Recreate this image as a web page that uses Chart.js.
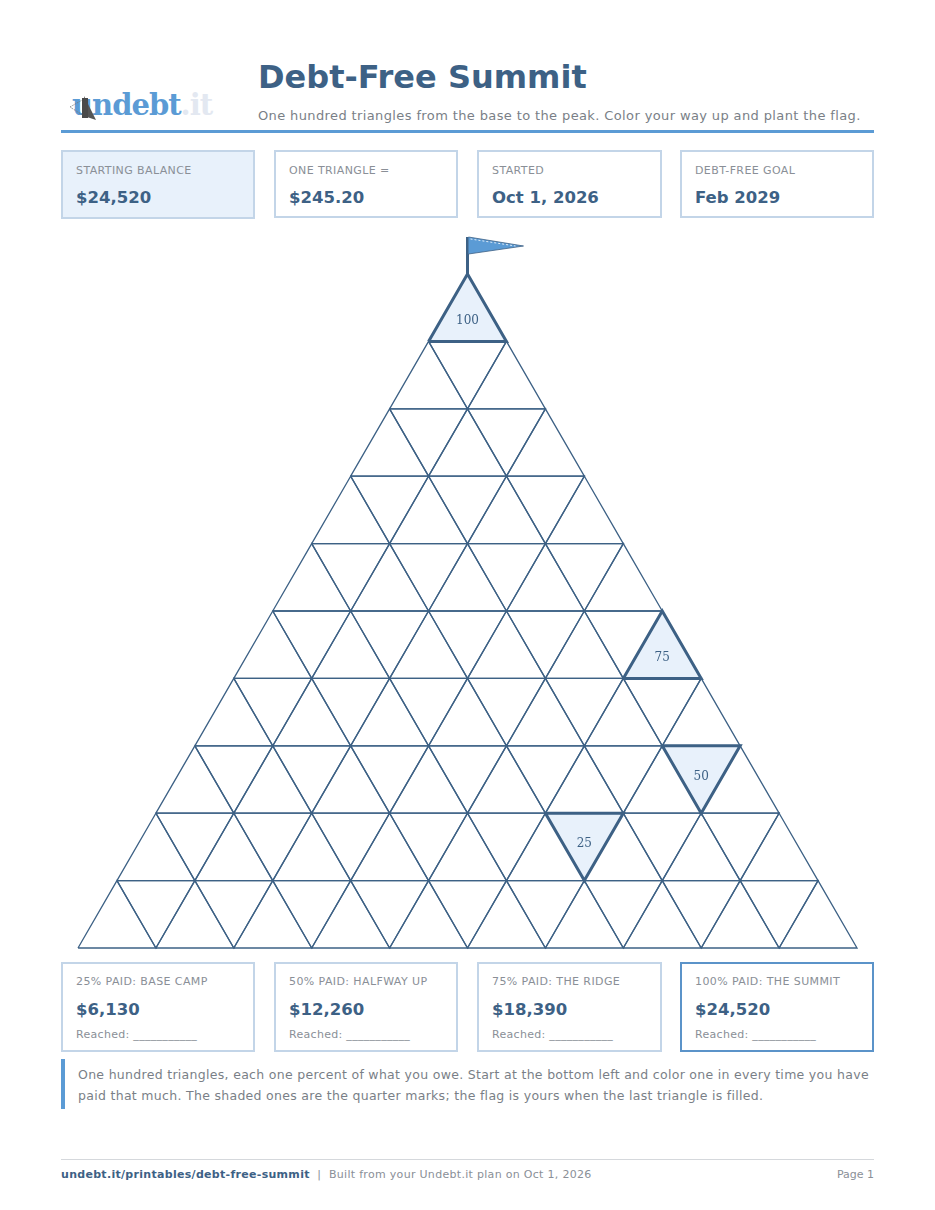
<!DOCTYPE html>
<html><head><meta charset="utf-8">
<script src="https://cdn.jsdelivr.net/npm/chart.js"></script>
<style>
body{margin:0;background:#fff;font-family:"DejaVu Sans",sans-serif;}
.pg{position:relative;width:935px;height:1210px;}
.abs{position:absolute;}
.box{position:absolute;box-sizing:border-box;border:2px solid #c3d5e8;background:#fff;}
.lbl{position:absolute;left:13px;font-size:11px;color:#8a8f97;letter-spacing:0.4px;}
.val{position:absolute;left:13px;font-size:16.5px;font-weight:bold;color:#3d6185;}
.rch{position:absolute;left:13px;font-size:11px;color:#8a8f97;letter-spacing:0.3px;}
</style></head><body><div class="pg">
<div class="abs" style="left:72px;top:88px;font-family:'DejaVu Serif',serif;font-weight:bold;font-size:29px;color:#5b9bd5;letter-spacing:-1px">undebt<span style="color:#e3e8f1">.it</span></div>
<svg class="abs" style="left:68px;top:94px" width="30" height="28"><polygon points="16,2 28,26 16,22" fill="#555"/><polygon points="2,13 16,5 16,22" fill="none" stroke="#777" stroke-dasharray="1,1"/><rect x="14" y="4" width="6" height="20" fill="#4a4a4a"/></svg>
<div class="abs" style="left:258px;top:58px;font-size:32px;font-weight:bold;color:#3d6185">Debt-Free Summit</div>
<div class="abs" style="left:258px;top:108px;font-size:13px;letter-spacing:0.38px;color:#7a7f87">One hundred triangles from the base to the peak. Color your way up and plant the flag.</div>
<div class="abs" style="left:61px;top:130px;width:813px;height:3px;background:#5b9bd5"></div>

<div class="box" style="left:61px;top:150px;width:194px;height:69px;background:#e8f1fb"><div class="lbl" style="top:12px">STARTING BALANCE</div><div class="val" style="top:36px">$24,520</div></div>
<div class="box" style="left:274px;top:150px;width:184px;height:68px"><div class="lbl" style="top:12px">ONE TRIANGLE =</div><div class="val" style="top:36px">$245.20</div></div>
<div class="box" style="left:477px;top:150px;width:185px;height:68px"><div class="lbl" style="top:12px">STARTED</div><div class="val" style="top:36px">Oct 1, 2026</div></div>
<div class="box" style="left:680px;top:150px;width:194px;height:68px"><div class="lbl" style="top:12px">DEBT-FREE GOAL</div><div class="val" style="top:36px">Feb 2029</div></div>

<canvas id="c" class="abs" style="left:68px;top:228px;width:800px;height:730px"></canvas>

<div class="box" style="left:61px;top:962px;width:194px;height:90px"><div class="lbl" style="top:11px">25% PAID: BASE CAMP</div><div class="val" style="top:36px">$6,130</div><div class="rch" style="top:64px">Reached: ___________</div></div>
<div class="box" style="left:274px;top:962px;width:184px;height:90px"><div class="lbl" style="top:11px">50% PAID: HALFWAY UP</div><div class="val" style="top:36px">$12,260</div><div class="rch" style="top:64px">Reached: ___________</div></div>
<div class="box" style="left:477px;top:962px;width:185px;height:90px"><div class="lbl" style="top:11px">75% PAID: THE RIDGE</div><div class="val" style="top:36px">$18,390</div><div class="rch" style="top:64px">Reached: ___________</div></div>
<div class="box" style="left:680px;top:962px;width:194px;height:90px;border-color:#5b93c9"><div class="lbl" style="top:11px">100% PAID: THE SUMMIT</div><div class="val" style="top:36px">$24,520</div><div class="rch" style="top:64px">Reached: ___________</div></div>

<div class="abs" style="left:61px;top:1059px;width:4px;height:50px;background:#5b9bd5"></div>
<div class="abs" style="left:78px;top:1064px;width:800px;font-size:12.5px;letter-spacing:0.3px;line-height:21px;color:#7a7f87">One hundred triangles, each one percent of what you owe. Start at the bottom left and color one in every time you have paid that much. The shaded ones are the quarter marks; the flag is yours when the last triangle is filled.</div>
<div class="abs" style="left:61px;top:1159px;width:813px;height:1px;background:#d5d8dc"></div>
<div class="abs" style="left:61px;top:1168px;font-size:11px;letter-spacing:0.3px;color:#8a8f97"><b style="color:#3d6185">undebt.it/printables/debt-free-summit</b> &nbsp;|&nbsp; Built from your Undebt.it plan on Oct 1, 2026</div>
<div class="abs" style="right:61px;top:1168px;font-size:11px;color:#8a8f97">Page 1</div>
</div>
<script>
const ROWS = 10;                 // rows of the summit, bottom row = 1
const TOTAL = 100;               // triangles
const MARKS = [25, 50, 75, 100]; // shaded quarter marks
const tris = [];
let n = 0;
for (let r = 0; r < ROWS; r++) {
  const count = 2*(ROWS-r)-1;
  const ltr = r % 2 === 0;
  for (let i = 0; i < count; i++) {
    n++;
    const k = ltr ? i : count-1-i;
    const up = k % 2 === 0;
    const x0 = r + k;
    let pts;
    if (up) pts = [{x:x0,y:r},{x:x0+2,y:r},{x:x0+1,y:r+1}];
    else pts = [{x:x0,y:r+1},{x:x0+2,y:r+1},{x:x0+1,y:r}];
    tris.push({n, pts, cx:x0+1, cy: up ? r+0.38 : r+0.62});
  }
}
const hiTris = tris.filter(t=>MARKS.includes(t.n));
const datasets = tris.map(t => {
  const hi = MARKS.includes(t.n);
  return {data:[...t.pts, t.pts[0]], borderColor:'#3d6185', borderWidth: hi?3:1.3,
    fill:false, pointRadius:0, tension:0, order: hi?0:1, clip:false};
});
const lab = {id:'lab',
 beforeDatasetsDraw(ch){
  const c=ch.ctx, xs=ch.scales.x, ys=ch.scales.y;
  c.save(); c.fillStyle='#e8f1fb';
  hiTris.forEach(t=>{c.beginPath(); t.pts.forEach((p,i)=>{const X=xs.getPixelForValue(p.x),Y=ys.getPixelForValue(p.y); i?c.lineTo(X,Y):c.moveTo(X,Y);}); c.closePath(); c.fill();});
  c.restore();
 },
 afterDatasetsDraw(ch){
  const c=ch.ctx, xs=ch.scales.x, ys=ch.scales.y;
  c.save(); c.fillStyle='#3d6185'; c.font='12px "DejaVu Serif"'; c.textAlign='center'; c.textBaseline='middle';
  hiTris.forEach(t=>c.fillText(String(t.n), xs.getPixelForValue(t.cx), ys.getPixelForValue(t.cy)+5));
  const ax=xs.getPixelForValue(ROWS), ay=ys.getPixelForValue(ROWS);
  c.strokeStyle='#3d6185'; c.lineWidth=3; c.beginPath(); c.moveTo(ax,ay); c.lineTo(ax,ay-37); c.stroke();
  c.fillStyle='#5b9bd5'; c.beginPath(); c.moveTo(ax+1,ay-37); c.lineTo(ax+56,ay-28); c.lineTo(ax+1,ay-20); c.closePath(); c.fill();
  c.strokeStyle='#3d6185'; c.lineWidth=0.8; c.beginPath(); c.moveTo(ax+1,ay-37); c.lineTo(ax+56,ay-28); c.lineTo(ax+1,ay-20); c.stroke();
  c.strokeStyle='#fff'; c.setLineDash([2,2]); c.beginPath(); c.moveTo(ax+3,ay-35); c.lineTo(ax+48,ay-28); c.stroke();
  c.restore();
}};
new Chart(document.getElementById('c'), {type:'scatter', data:{datasets},
  options:{responsive:false, animation:false, showLine:true, devicePixelRatio:1,
    layout:{padding:{left:10,right:11,top:46,bottom:10}},
    plugins:{legend:{display:false}, tooltip:{enabled:false}},
    scales:{x:{type:'linear',min:0,max:20,display:false}, y:{type:'linear',min:0,max:ROWS,display:false}}},
  plugins:[lab]});
</script></body></html>
